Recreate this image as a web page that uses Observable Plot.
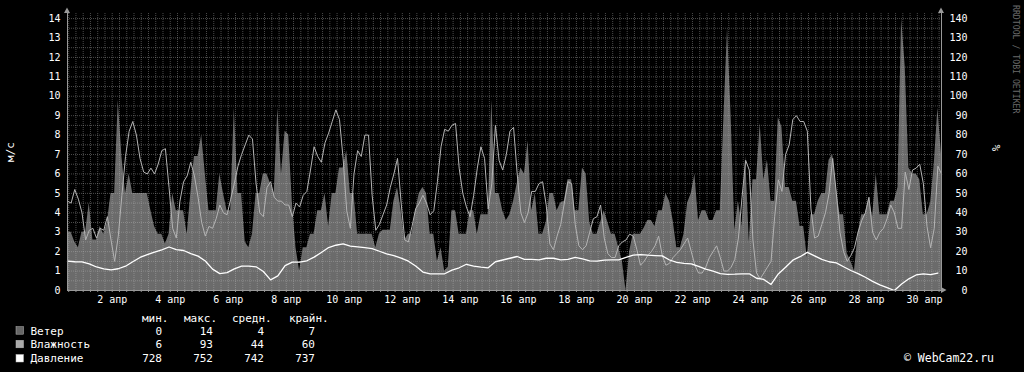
<!DOCTYPE html>
<html><head><meta charset="utf-8">
<script src="https://cdn.jsdelivr.net/npm/d3@7"></script>
<script src="https://cdn.jsdelivr.net/npm/@observablehq/plot@0.6"></script>
<style>html,body{margin:0;padding:0;background:#000;}#chart{width:1024px;height:372px;overflow:hidden}</style>
</head><body><div id="chart"></div>
<script>
// ---- data ----
const seriesNames = ["Ветер", "Влажность", "Давление"];
const seriesColors = ["#666666", "#aaaaaa", "#ffffff"];
const statHeaders = ["мин.", "макс.", "средн.", "крайн."];
const windStats = [0, 14, 4, 7];
const humidityStats = [6, 93, 44, 60];
const pressureStats = [728, 752, 742, 737];
const yTicks = [0,1,2,3,4,5,6,7,8,9,10,11,12,13,14];
const monthLabel = "апр";
const xTickDays = [2,4,6,8,10,12,14,16,18,20,22,24,26,28,30];

// wind, m/s, every 3 hours from 31 Mar 11:00
const wind = [
3.0,3.0,2.5,2.2,3.0,3.0,4.5,2.6,2.6,3.3,
2.9,3.5,5.0,5.0,9.8,6.9,5.0,6.0,5.0,5.0,
5.0,5.0,5.0,4.1,3.3,2.9,2.9,2.4,2.9,5.0,
4.1,4.1,4.1,2.9,5.0,6.9,6.9,8.0,6.0,4.1,
4.1,4.1,6.0,5.0,4.1,4.1,9.4,5.0,5.0,2.5,
2.2,2.9,5.0,5.0,6.0,6.0,5.5,5.0,9.4,6.0,
8.2,8.0,4.5,2.2,1.0,2.2,2.2,2.9,2.9,4.1,
4.1,5.0,3.3,5.0,5.0,6.3,6.3,7.2,5.0,5.0,
2.9,2.9,2.9,2.9,2.9,2.2,2.9,3.1,3.1,3.1,
4.6,5.3,4.1,2.6,2.9,2.9,4.1,5.0,5.3,5.0,
2.9,2.9,1.5,2.2,1.0,1.2,4.1,4.1,2.9,2.9,
2.9,4.1,4.1,2.9,3.9,3.9,3.9,9.8,5.0,5.0,
4.1,3.6,3.9,4.6,5.5,6.3,6.0,7.7,4.1,5.0,
2.9,2.9,3.5,5.0,5.0,4.1,4.5,4.6,5.7,5.7,
4.1,4.1,6.3,6.0,3.5,2.9,2.9,3.5,4.1,3.5,
2.9,2.9,2.2,1.5,0,2.0,2.9,2.9,2.9,3.2,
3.6,3.6,3.3,4.1,4.1,5.0,4.6,3.6,2.2,2.2,
2.9,4.5,5.0,6.0,3.6,4.1,4.1,3.6,3.6,4.1,
4.1,8.9,13.5,8.9,3.1,4.6,3.3,6.9,2.5,5.7,
5.7,8.6,5.7,6.7,4.6,4.6,8.9,8.4,5.3,5.3,
4.6,4.6,3.3,3.3,1.7,3.9,3.9,4.6,5.0,5.0,
6.7,7.0,5.3,3.9,3.9,1.9,1.5,1.0,2.9,3.9,
3.9,4.8,3.8,6.0,3.9,3.9,3.9,4.6,4.6,5.3,
14.0,11.5,6.3,6.0,6.0,5.7,3.9,3.9,4.5,6.5,
9.4,7.0];

// humidity, %, every 3 hours
const humidity = [
46,45,52,47,40,26,31,32,27,32,
31,38,26,15,28,49,69,82,87,80,
68,61,60,63,60,65,72,73,53,32,
27,46,56,59,66,59,48,35,28,33,
32,37,44,40,39,47,55,64,70,75,
80,78,55,40,38,53,56,48,46,46,
44,44,38,45,43,49,51,62,74,69,
66,76,81,87,93,88,68,41,32,60,
72,69,80,80,49,31,34,39,44,53,
60,68,45,26,25,33,42,45,49,45,
39,41,56,74,83,82,85,86,63,50,
43,38,49,63,74,68,42,55,85,67,
62,70,82,84,60,40,35,40,51,51,
55,56,44,24,21,28,34,45,56,55,
34,23,21,23,30,37,38,44,27,19,
17,17,23,25,26,29,28,21,13,15,
18,20,23,28,18,13,14,17,19,21,
24,27,20,13,9,9,12,17,20,23,
17,10,10,12,16,27,48,67,62,26,
9,6,9,12,15,38,57,51,70,75,
88,90,87,87,82,42,27,28,34,40,
50,68,50,30,20,15,18,22,30,36,
40,48,30,26,30,32,37,44,40,32,
32,61,52,62,63,65,55,33,22,32,
64,60];

// pressure, mm Hg, every 6 hours
const pressure = [
743.1,742.8,742.7,741.7,740.1,739.1,738.6,739.2,740.5,742.8,
745.0,746.5,747.8,748.9,750.4,749.0,748.6,747.0,745.7,743.2,
739.0,736.7,737.2,739.1,740.5,740.5,740.2,737.8,733.5,735.5,
740.8,742.6,742.6,743.3,745.2,747.6,750.1,751.3,752.0,750.8,
750.5,750.1,749.6,748.2,746.8,745.9,744.7,743.1,740.6,737.5,
736.6,736.6,736.6,738.5,739.7,741.5,740.5,740.0,739.7,742.8,
743.7,744.6,745.5,744.0,744.0,743.8,744.6,744.6,743.8,744.0,
745.1,744.3,743.3,743.1,743.6,743.8,743.8,745.0,746.2,746.5,
746.2,746.0,745.8,743.7,742.5,742.0,741.7,740.4,739.0,738.0,
736.7,736.3,736.4,736.6,736.6,734.3,733.7,731.1,736.5,740.0,
743.6,745.4,747.6,745.8,744.0,742.8,742.2,740.2,738.3,736.7,
734.8,732.7,730.9,729.5,728.0,731.3,734.0,736.0,736.6,736.2,
737.0];

// ---- build ----
const H = 3600e3;
const t0 = Date.UTC(2020, 2, 31, 11);
const tEnd = t0 + 723 * H;
const windRows = wind.map((v, i) => ({t: new Date(t0 + i * 3 * H), v}));
const humRows = humidity.map((v, i) => ({t: new Date(t0 + i * 3 * H), v}));
const presRows = pressure.map((v, i) => ({t: new Date(t0 + i * 6 * H), v}));
const pBase = 728, pDiv = 10, hDiv = 10;

const xTicks = xTickDays.map(d => new Date(Date.UTC(2020, 3, d)));
const xGrid = d3.utcHour.every(6).range(new Date(t0), new Date(tEnd));
const yGrid = d3.range(0.5, 14.26, 0.5);

const gridStyle = {stroke: "#b8b8b8", strokeOpacity: 0.4, strokeDasharray: "1,1"};

const chart = Plot.plot({
  width: 1024, height: 372,
  marginLeft: 67, marginRight: 83, marginTop: 13, marginBottom: 82,
  style: {background: "#000", color: "#fff", fontFamily: "DejaVu Sans Mono", fontSize: "10px"},
  x: {type: "utc", domain: [new Date(t0), new Date(tEnd)], axis: null},
  y: {domain: [0, 14.26], axis: null},
  marks: [
    Plot.areaY(windRows, {x: "t", y: "v", fill: "#6b6b6b"}),
    Plot.ruleY(yGrid, gridStyle),
    Plot.ruleX(xGrid, gridStyle),
    Plot.line(humRows, {x: "t", y: d => d.v / hDiv, stroke: "#b4b4b4", strokeWidth: 1}),
    Plot.line(presRows, {x: "t", y: d => (d.v - pBase) / pDiv, stroke: "#ffffff", strokeWidth: 1.3}),
    Plot.ruleY([0], {stroke: "#999"}),
    Plot.ruleX([new Date(t0), new Date(tEnd)], {stroke: "#999"}),
    Plot.ruleX(xGrid, {y1: 0, y2: -0.1, stroke: "#999"}),
    Plot.text(yTicks, {y: d => d, text: d => String(d), frameAnchor: "left", dx: -7, textAnchor: "end", fill: "#fff", fontSize: 10}),
    Plot.text(yTicks, {y: d => d, text: d => String(d * 10), frameAnchor: "right", dx: 26, textAnchor: "end", fill: "#fff", fontSize: 10}),
    Plot.text(xTicks, {x: d => d, text: d => d.getUTCDate() + " " + monthLabel, frameAnchor: "bottom", lineAnchor: "top", dy: 5, fill: "#fff", fontSize: 10})
  ]
});
document.getElementById("chart").appendChild(chart);

// ---- decorations & legend ----
const svg = d3.select(chart);
const mono = "DejaVu Sans Mono";
const txt = (s, x, y, size, anchor, fill) => svg.append("text").text(s)
  .attr("x", x).attr("y", y).attr("dy", "0.35em").attr("text-anchor", anchor)
  .attr("fill", fill || "#fff").attr("font-family", mono).attr("font-size", size);

svg.append("path").attr("d", "M64,13L67,7.5L70,13Z").attr("fill", "#999");
svg.append("path").attr("d", "M938,13L941,7.5L944,13Z").attr("fill", "#999");
svg.append("path").attr("d", "M941,287L946.5,290L941,293Z").attr("fill", "#999");

svg.append("text").text("м/с").attr("transform", "translate(14,152) rotate(-90)")
  .attr("text-anchor", "middle").attr("fill", "#fff").attr("font-family", mono).attr("font-size", 11);
svg.append("text").text("%").attr("transform", "translate(1000,148) rotate(-90)")
  .attr("text-anchor", "middle").attr("fill", "#fff").attr("font-family", mono).attr("font-size", 11);
svg.append("text").text("RRDTOOL / TOBI OETIKER").attr("transform", "translate(1013,5) rotate(90)")
  .attr("text-anchor", "start").attr("fill", "#6a6a6a").attr("font-family", mono).attr("font-size", 8.2);

const headX = [142, 184, 232, 289];
const valX = [162, 213, 264, 315];
const rowY = [330.7, 344.3, 358.5];
const statsAll = [windStats, humidityStats, pressureStats];
statHeaders.forEach((h, k) => txt(h, headX[k], 318, 11, "start"));
seriesNames.forEach((name, r) => {
  svg.append("rect").attr("x", 16).attr("y", rowY[r] - 4).attr("width", 7.5).attr("height", 7.5)
    .attr("fill", seriesColors[r]).attr("stroke", "#bbb").attr("stroke-width", 0.5);
  txt(name, 30.5, rowY[r], 11, "start");
  statsAll[r].forEach((v, k) => txt(String(v), valX[k], rowY[r], 11, "end"));
});
txt("© WebCam22.ru", 994, 358.3, 11.5, "end");
</script></body></html>
